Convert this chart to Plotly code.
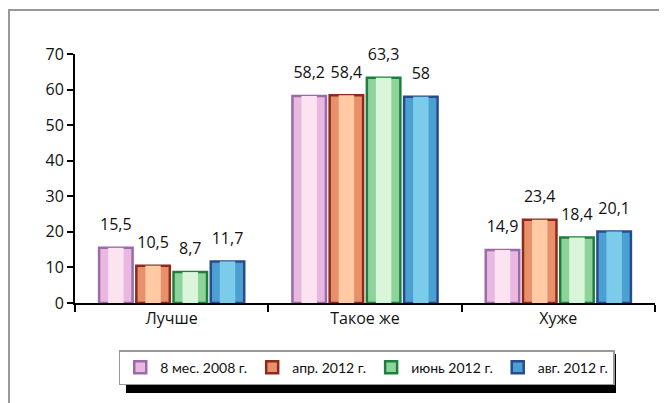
import plotly.graph_objects as go

# categories and series
categories = ["Лучше", "Такое же", "Хуже"]
series_names = ["8 мес. 2008 г.", "апр. 2012 г.", "июнь 2012 г.", "авг. 2012 г."]
v_2008_8m = [15.5, 58.2, 14.9]
v_2012_apr = [10.5, 58.4, 23.4]
v_2012_jun = [8.7, 63.3, 18.4]
v_2012_aug = [11.7, 58.0, 20.1]
y_ticks = [0, 10, 20, 30, 40, 50, 60, 70]

values = [v_2008_8m, v_2012_apr, v_2012_jun, v_2012_aug]
# (edge, mid, light) shades per series, to fake the cylinder shading
shades = [
    ("#9c6aa8", "#e8b8e0", "#fde2f2"),
    ("#8c2a1c", "#e8906a", "#ffcaa4"),
    ("#1e7e3e", "#8ed49a", "#daf6da"),
    ("#2a4a8e", "#4aa0d0", "#7ccbea"),
]

FONT = "'Open Sans', Lato, sans-serif"

fig = go.Figure()
for i, (name, vals, (ec, mc, lc)) in enumerate(zip(series_names, values, shades)):
    grp = f"g{i}"
    fig.add_trace(go.Bar(
        x=categories, y=vals, name=name, offsetgroup=grp,
        marker=dict(color=mc, line=dict(color=ec, width=2.5)),
        # number at 16px plus a short empty line, lifting the label off the bar
        texttemplate="<span style='font-size:16px'>%{y}</span><br> ",
        textposition="outside", cliponaxis=False,
        textfont=dict(size=9, color="#111", family=FONT),
    ))
    # lighter core of the bar
    fig.add_trace(go.Bar(
        x=categories, y=vals, offsetgroup=grp, width=0.08,
        marker=dict(color=lc, line=dict(width=0)),
        showlegend=False, hoverinfo="skip",
    ))

fig.update_layout(
    width=667,
    height=403,
    separators=", ",
    barmode="group",
    bargap=0.23,
    bargroupgap=0.1,
    paper_bgcolor="white",
    plot_bgcolor="white",
    margin=dict(l=67, r=20, t=46, b=108),
    font=dict(family=FONT, size=16, color="#111"),
    showlegend=True,
    legend=dict(
        orientation="h",
        x=0.503, xanchor="center",
        y=-0.189, yanchor="top",
        bgcolor="white",
        bordercolor="#999",
        borderwidth=1.5,
        font=dict(size=14, family="Lato, sans-serif", color="#111"),
        tracegroupgap=0,
    ),
    xaxis=dict(
        showline=True, linecolor="black", linewidth=2,
        ticks="outside", ticklen=7, tickwidth=2, tickcolor="black",
        tickson="boundaries",
        showgrid=False,
        tickfont=dict(size=16),
    ),
    yaxis=dict(
        range=[0, 70],
        tickvals=y_ticks,
        showline=True, linecolor="black", linewidth=2,
        ticks="outside", ticklen=6, tickwidth=2, tickcolor="black",
        showgrid=False, zeroline=False,
        tickfont=dict(size=16),
    ),
    shapes=[
        # outer frame
        dict(type="rect", xref="paper", yref="paper",
             x0=(1 - 67) / 580, x1=(700 - 67) / 580,
             y0=(295 - 450) / 249, y1=(295 - 2) / 249,
             line=dict(color="#999", width=2), layer="below"),
        # legend drop shadow
        dict(type="rect", xref="paper", yref="paper",
             x0=(118 - 67) / 580, x1=(608 - 67) / 580,
             y0=(295 - 385) / 249, y1=(295 - 346) / 249,
             fillcolor="black", line=dict(width=0), layer="above"),
    ],
)

fig.write_html("out.html")
